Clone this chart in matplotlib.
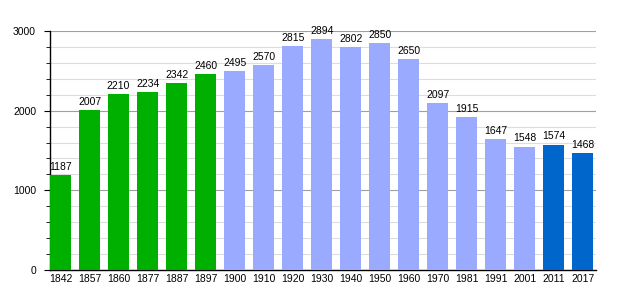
import matplotlib.pyplot as plt
from matplotlib.ticker import MultipleLocator

years = ["1842", "1857", "1860", "1877", "1887", "1897", "1900", "1910", "1920",
         "1930", "1940", "1950", "1960", "1970", "1981", "1991", "2001", "2011", "2017"]
population = [1187, 2007, 2210, 2234, 2342, 2460, 2495, 2570, 2815,
              2894, 2802, 2850, 2650, 2097, 1915, 1647, 1548, 1574, 1468]
colors = ["#00b000"] * 6 + ["#99aaff"] * 11 + ["#0066cc"] * 2

plt.rcParams["font.family"] = ["Liberation Sans", "DejaVu Sans"]

fig = plt.figure(figsize=(6.25, 3.0), dpi=100)
ax = fig.add_axes([0.08, 0.1, 0.8736, 0.7967])

x = list(range(len(years)))
ax.bar(x, population, width=0.724, color=colors, zorder=3)
for xi, v in zip(x, population):
    ax.text(xi, v + 40, str(v), ha="center", va="bottom", fontsize=7.5, zorder=4)

ax.set_xlim(-0.362, 18.45)
ax.set_ylim(0, 3000)
ax.set_xticks(x)
ax.set_xticklabels(years)
ax.yaxis.set_major_locator(MultipleLocator(1000))
ax.yaxis.set_minor_locator(MultipleLocator(200))
ax.grid(axis="y", which="major", color="#a0a0a0", linewidth=0.8, zorder=1)
ax.grid(axis="y", which="minor", color="#dddddd", linewidth=0.8, zorder=1)
ax.tick_params(axis="x", length=0, labelsize=7.5, pad=3)
ax.tick_params(axis="y", which="major", length=4, labelsize=7.5, pad=6)
ax.tick_params(axis="y", which="minor", length=3)
for side in ("top", "right"):
    ax.spines[side].set_visible(False)
ax.spines["left"].set_linewidth(1)
ax.spines["bottom"].set_linewidth(1)

fig.savefig("out.png", dpi=100)
